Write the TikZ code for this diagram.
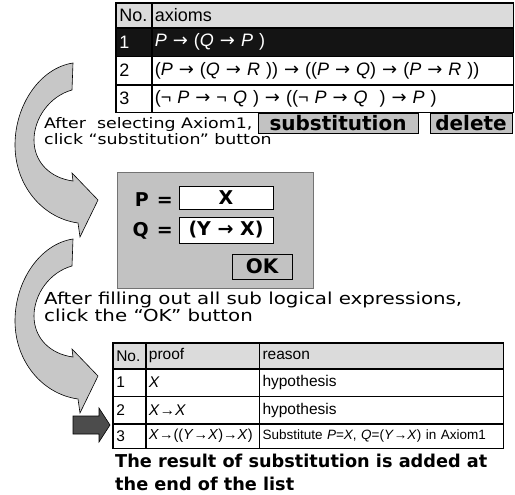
\documentclass[tikz,border=0pt]{standalone}
\usepackage{fontspec}
\setmainfont{Liberation Sans}
\newfontfamily\notefont{DejaVu Sans}
\newfontfamily\widefont[FakeStretch=1.2]{DejaVu Sans}
\newcommand{\imp}{{\notefont →}}
\usetikzlibrary{positioning}
\pgfdeclarelayer{bg}
\pgfsetlayers{bg,main}
\definecolor{headgray}{gray}{0.86}
\definecolor{selblack}{gray}{0.08}
\definecolor{btngray}{gray}{0.76}
\definecolor{bendgray}{gray}{0.78}
\definecolor{markgray}{gray}{0.3}
\tikzset{cell/.style={draw, line width=0.6pt, anchor=north west, inner xsep=3pt, inner ysep=0pt, align=left},
    axno/.style={cell, text width=29pt, font=\fontsize{18}{20}\selectfont},
    axcol/.style={cell, text width=355pt, font=\fontsize{18}{20}\selectfont},
    prno/.style={cell, text width=26pt, font=\fontsize{15.5}{17}\selectfont},
    prcol/.style={cell, text width=107pt, font=\fontsize{15.5}{17}\selectfont},
    recol/.style={cell, text width=238pt, font=\fontsize{15.5}{17}\selectfont},
    btn/.style={draw, line width=0.6pt, fill=btngray, inner sep=0pt, font=\notefont\bfseries\fontsize{20}{22}\selectfont},
    field/.style={draw, line width=0.6pt, fill=white, inner sep=0pt, minimum width=94pt, font=\notefont\bfseries\fontsize{19}{21}\selectfont},
    note/.style={anchor=base west, inner sep=0pt, font=\widefont\fontsize{14.5}{16}\selectfont},
    result/.style={anchor=base west, inner sep=0pt, font=\notefont\bfseries\fontsize{17.7}{20}\selectfont}}

\begin{document}
\begin{tikzpicture}[x=1pt, y=-1pt]
    \useasboundingbox (0,0) rectangle (515,495);

    % axiom list
    \node[axno, fill=headgray, minimum height=24pt] (ax-h1) at (116,3) {No.};
    \node[axcol, fill=headgray, minimum height=24pt, right=0pt of ax-h1] (ax-h2) {axioms};
    \node[axno, fill=selblack, text=white, minimum height=28pt, below=0pt of ax-h1] (ax-1a) {1};
    \node[axcol, fill=selblack, text=white, minimum height=28pt, below=0pt of ax-h2] (ax-1b) {\textit{P} \imp{} (\textit{Q} \imp{} \textit{P} )};
    \node[axno, minimum height=28pt, below=0pt of ax-1a] (ax-2a) {2};
    \node[axcol, minimum height=28pt, below=0pt of ax-1b] (ax-2b) {(\textit{P} \imp{} (\textit{Q} \imp{} \textit{R} )) \imp{} ((\textit{P} \imp{} \textit{Q}) \imp{} (\textit{P} \imp{} \textit{R} ))};
    \node[axno, minimum height=27pt, below=0pt of ax-2a] (ax-3a) {3};
    \node[axcol, minimum height=27pt, below=0pt of ax-2b] (ax-3b) {(¬ \textit{P} \imp{} ¬ \textit{Q} ) \imp{} ((¬ \textit{P} \imp{} \textit{Q}\ \ ) \imp{} \textit{P} )};
    \draw[line width=1.2pt] (ax-h1.north west) rectangle (ax-3b.south east);

    \node[btn, minimum width=160pt, minimum height=20pt] (subbtn) at (338,123) {substitution};
    \node[btn, minimum width=82pt, minimum height=20pt] (delbtn) at (471,123) {delete};

    \node[note] (sel1) at (44,129) {After\ \ selecting Axiom1,};
    \node[note] (sel2) at (44,145) {click “substitution” button};

    % substitution dialog
    \node[draw=black!55, line width=0.8pt, fill=btngray, minimum width=196pt, minimum height=116pt] (dialog) at (215,230) {};
    \node[field, minimum height=23pt] (pval) at (226,197.5) {X};
    \node[field, minimum height=26pt] (qval) at (226,230) {(Y \imp{} X)};
    \node[btn, minimum width=60pt, minimum height=25pt] (okbtn) at (262,266.5) {OK};
    \node[anchor=east, inner sep=0pt, font=\notefont\bfseries\fontsize{19}{21}\selectfont] (pvar) at (173,200) {P\hspace{8pt}=};
    \node[anchor=east, inner sep=0pt, font=\notefont\bfseries\fontsize{19}{21}\selectfont] (qvar) at (173,231) {Q\hspace{8pt}=};

    \node[note, font=\widefont\fontsize{16.5}{18}\selectfont] (fill1) at (44,304) {After filling out all sub logical expressions,};
    \node[note, font=\widefont\fontsize{16.5}{18}\selectfont] (fill2) at (44,321) {click the “OK” button};

    % proof list
    \node[prno, fill=headgray, minimum height=25pt] (pr-h1) at (113,343) {No.};
    \node[prcol, fill=headgray, minimum height=25pt, right=0pt of pr-h1] (pr-h2) {proof};
    \node[recol, fill=headgray, minimum height=25pt, right=0pt of pr-h2] (pr-h3) {reason};
    \node[prno, minimum height=27pt, below=0pt of pr-h1] (pr-1a) {1};
    \node[prcol, minimum height=27pt, below=0pt of pr-h2] (pr-1b) {\textit{X}};
    \node[recol, minimum height=27pt, below=0pt of pr-h3] (pr-1c) {hypothesis};
    \node[prno, minimum height=27pt, below=0pt of pr-1a] (pr-2a) {2};
    \node[prcol, minimum height=27pt, below=0pt of pr-1b] (pr-2b) {\textit{X}→\textit{X}};
    \node[recol, minimum height=27pt, below=0pt of pr-1c] (pr-2c) {hypothesis};
    \node[prno, minimum height=24pt, below=0pt of pr-2a] (pr-3a) {3};
    \node[prcol, minimum height=24pt, below=0pt of pr-2b, font=\fontsize{14.5}{16}\selectfont] (pr-3b) {\textit{X}→((\textit{Y}→\textit{X})→\textit{X})};
    \node[recol, minimum height=24pt, below=0pt of pr-2c, font=\fontsize{13.5}{15}\selectfont] (pr-3c) {Substitute \textit{P}=\textit{X}, \textit{Q}=(\textit{Y}→\textit{X}) in Axiom1};
    \draw[line width=1.2pt] (pr-h1.north west) rectangle (pr-3c.south east);

    \node[result] (res1) at (115,467) {The result of substitution is added at};
    \node[result] (res2) at (115,490) {the end of the list};

    % new row marker
    \draw[fill=markgray, line width=0.6pt] (73,416) -- (99,416) -- (99,408) -- (110,425)
        -- (99,442) -- (99,434) -- (73,434) -- cycle;

    \begin{pgfonlayer}{bg}
        \foreach \dy in {0,176} {
            \draw[fill=bendgray, line width=0.6pt, shift={(0,\dy)}] (73,63) -- (72,90)
                .. controls (50,96) and (34,118) .. (34,140)
                .. controls (34,162) and (50,178) .. (73,181)
                -- (72,173) -- (98,200) -- (80,237) -- (78,223)
                .. controls (42,218) and (15,185) .. (15,145)
                .. controls (15,105) and (40,68) .. (73,63) -- cycle;
        }
    \end{pgfonlayer}
\end{tikzpicture}
\end{document}
